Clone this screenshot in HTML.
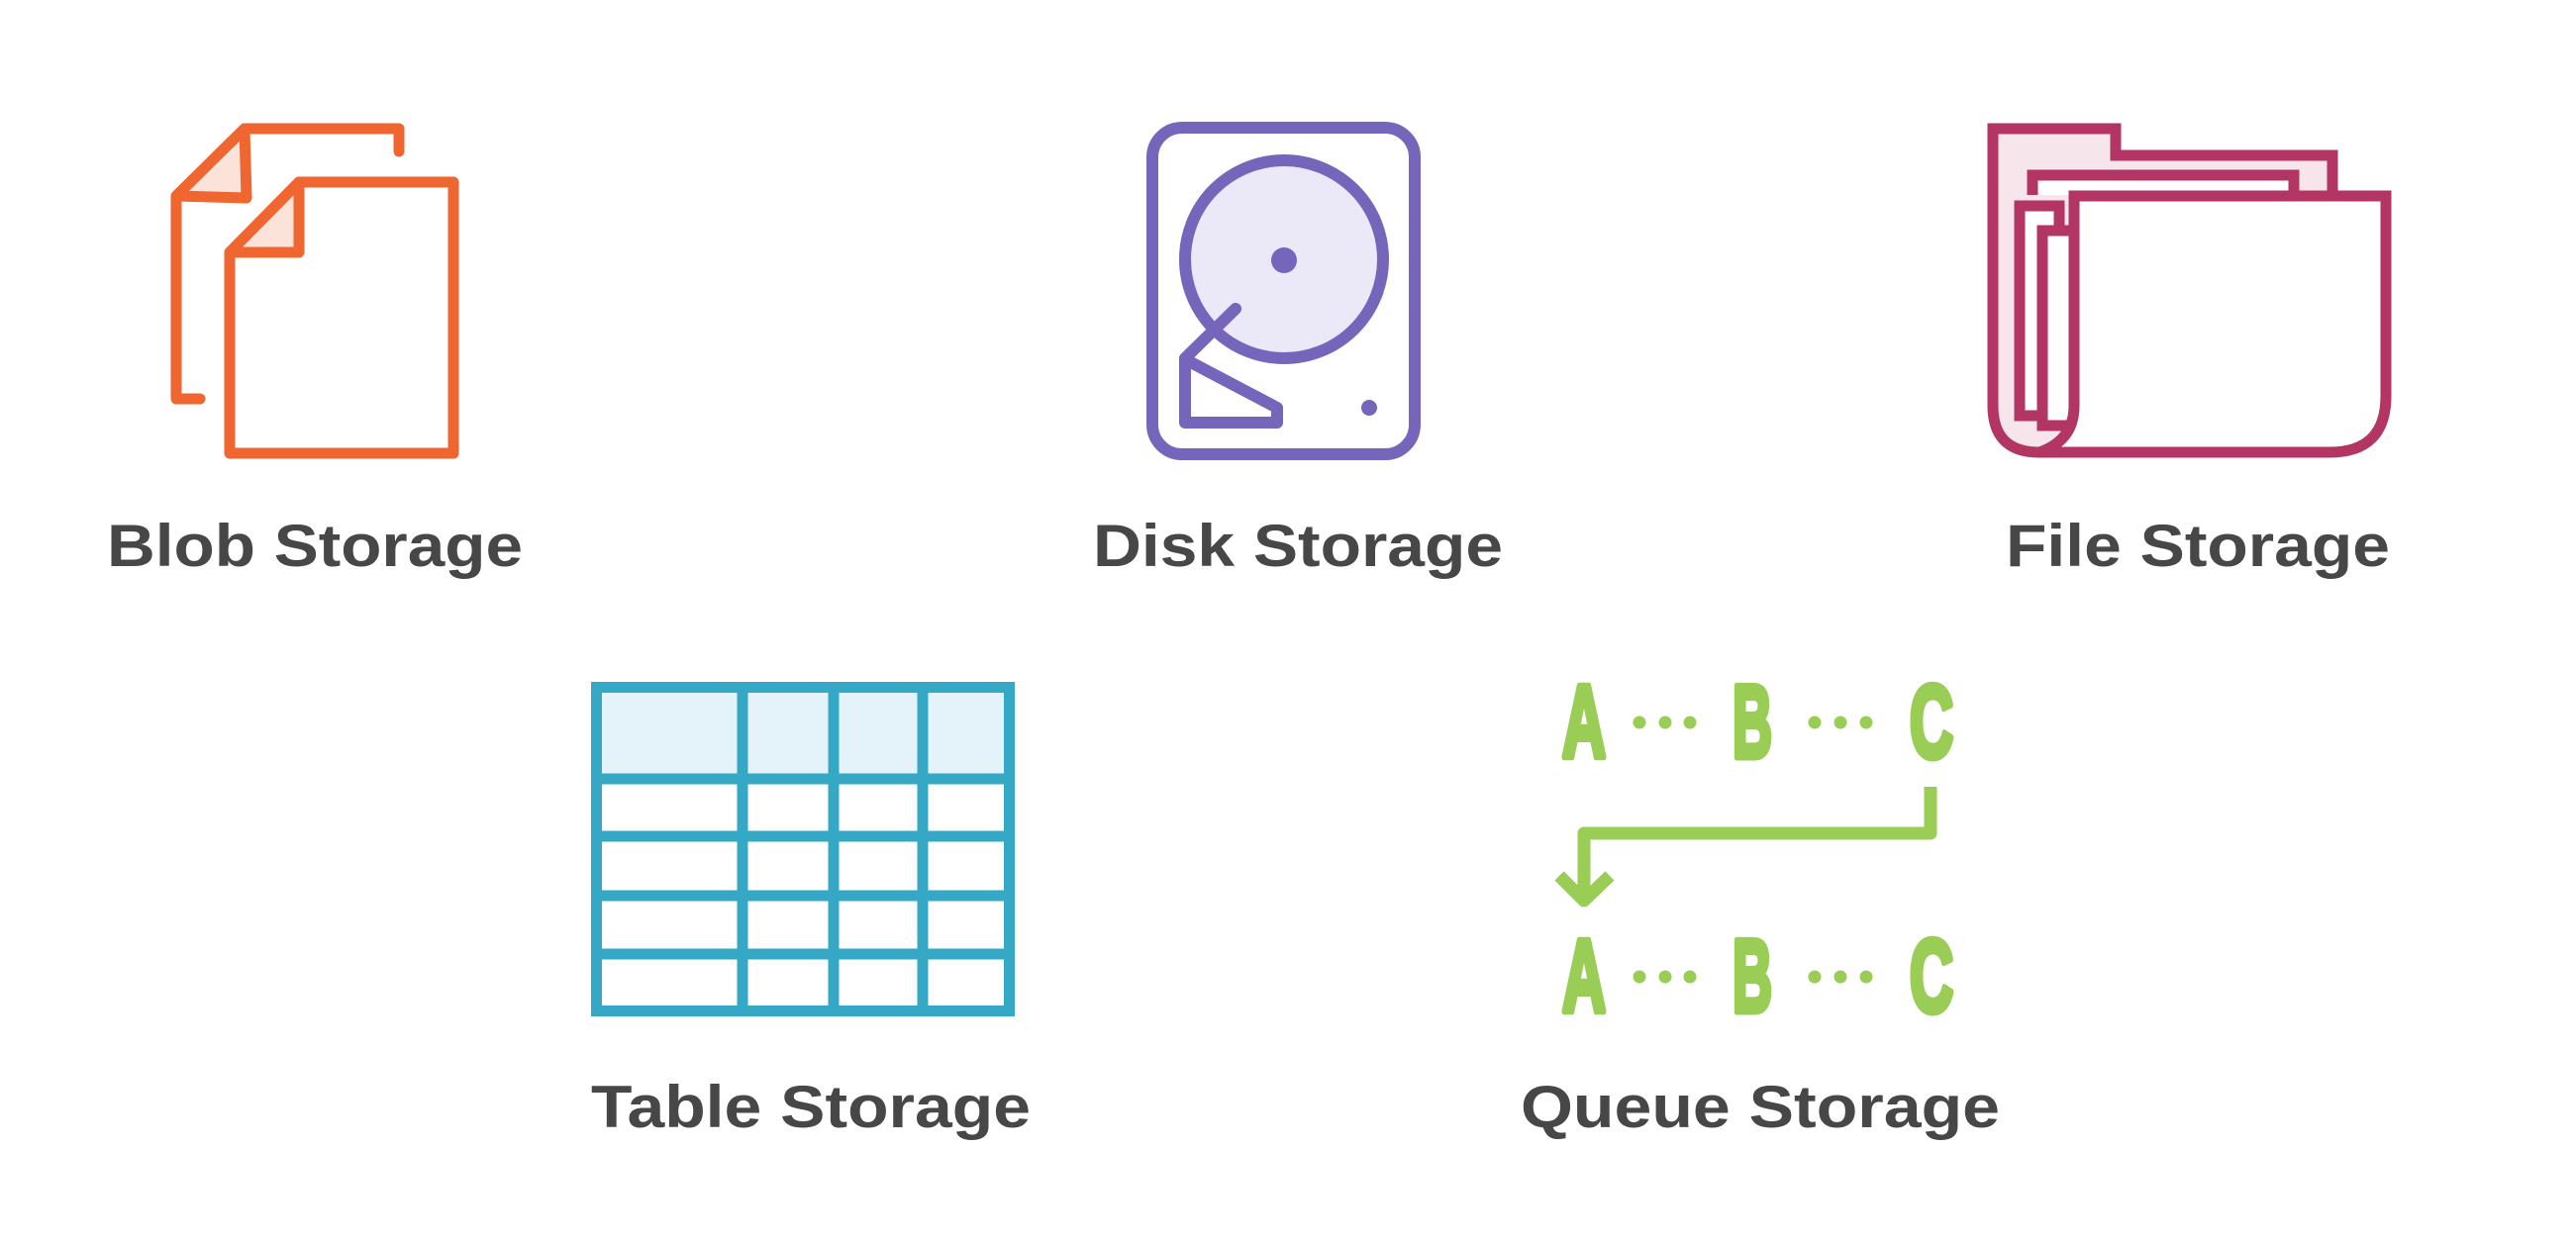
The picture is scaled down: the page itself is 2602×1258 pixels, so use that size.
<!DOCTYPE html>
<html><head><meta charset="utf-8"><style>
html,body{margin:0;padding:0;background:#fff;}
svg{display:block;}
text.l{font-family:"Liberation Sans",sans-serif;font-weight:bold;font-size:60px;fill:#474747;}
text.q{font-family:"Liberation Sans",sans-serif;font-weight:bold;font-size:104px;fill:#9acd55;stroke:#9acd55;stroke-width:7;stroke-linejoin:round;}
</style></head><body>
<svg width="2602" height="1258" viewBox="0 0 2602 1258" xmlns="http://www.w3.org/2000/svg">
<rect width="2602" height="1258" fill="#fff"/>
<!-- Blob -->
<g fill="none" stroke="#ef6630" stroke-width="11" stroke-linejoin="round" stroke-linecap="round">
  <path d="M403,153 L403,130 L247,130 L178,198 L178,403 L202,403"/>
  <path d="M247,130 L249,200 L178,198 Z" fill="#fbe3da"/>
  <path d="M302,184 L458,184 L458,458 L232,458 L232,255 Z" fill="#fff"/>
  <path d="M302,184 L302,255 L232,255 Z" fill="#fbe3da"/>
</g>
<!-- Disk -->
<g fill="none" stroke="#7566bb" stroke-width="12" stroke-linejoin="round" stroke-linecap="round">
  <rect x="1164" y="129" width="265" height="330" rx="30"/>
  <circle cx="1297" cy="262" r="100" fill="#ebe8f7"/>
  <path d="M1248,312 L1197,362"/>
  <path d="M1197,363 L1197,427 L1290,427 L1290,412 Z"/>
</g>
<circle cx="1297" cy="263" r="13" fill="#7566bb"/>
<circle cx="1383" cy="412" r="8" fill="#7566bb"/>
<!-- File -->
<g fill="none" stroke="#b23564" stroke-width="11" stroke-linejoin="miter">
  <path d="M2013,130 L2137,130 L2137,157 L2356,157 L2356,198 L2095,198 L2095,457 L2060,457 Q2013,457 2013,410 Z" fill="#f6e6ec"/>
  <path d="M2053,197 L2053,177 L2317,177 L2317,198" fill="#fff"/>
  <rect x="2040" y="208" width="40" height="212" fill="#fff"/>
  <rect x="2063" y="233" width="32" height="197" fill="#fff"/>
  <path d="M2095,198 L2410,198 L2410,400 Q2410,457 2353,457 L2060,457 Q2095,445 2095,410 Z" fill="#fff"/>
</g>
<!-- Table -->
<g>
  <rect x="597" y="689" width="428" height="98" fill="#e4f3f9"/>
  <g fill="none" stroke="#35a8c6" stroke-width="11">
    <rect x="602.5" y="694.5" width="417" height="327"/>
    <line x1="750" y1="694" x2="750" y2="1022"/>
    <line x1="842" y1="694" x2="842" y2="1022"/>
    <line x1="932" y1="694" x2="932" y2="1022"/>
    <line x1="602" y1="787" x2="1020" y2="787"/>
    <line x1="602" y1="845" x2="1020" y2="845"/>
    <line x1="602" y1="905" x2="1020" y2="905"/>
    <line x1="602" y1="964" x2="1020" y2="964"/>
  </g>
</g>
<!-- Queue -->
<g>
  <text class="q" x="1578" y="765" textLength="44" lengthAdjust="spacingAndGlyphs">A</text>
  <text class="q" x="1750" y="765" textLength="40" lengthAdjust="spacingAndGlyphs">B</text>
  <text class="q" x="1929" y="765" textLength="44" lengthAdjust="spacingAndGlyphs">C</text>
  <text class="q" x="1578" y="1022" textLength="44" lengthAdjust="spacingAndGlyphs">A</text>
  <text class="q" x="1750" y="1022" textLength="40" lengthAdjust="spacingAndGlyphs">B</text>
  <text class="q" x="1929" y="1022" textLength="44" lengthAdjust="spacingAndGlyphs">C</text>
  <g fill="#9acd55">
    <circle cx="1656" cy="730" r="6.5"/><circle cx="1682" cy="730" r="6.5"/><circle cx="1707" cy="730" r="6.5"/>
    <circle cx="1833" cy="730" r="6.5"/><circle cx="1859" cy="730" r="6.5"/><circle cx="1885" cy="730" r="6.5"/>
    <circle cx="1656" cy="987" r="6.5"/><circle cx="1682" cy="987" r="6.5"/><circle cx="1707" cy="987" r="6.5"/>
    <circle cx="1833" cy="987" r="6.5"/><circle cx="1859" cy="987" r="6.5"/><circle cx="1885" cy="987" r="6.5"/>
  </g>
  <g fill="none" stroke="#9acd55" stroke-width="13" stroke-linejoin="round">
    <path d="M1950,795 L1950,842 L1600,842 L1600,910"/>
    <path d="M1575,885 L1600,910 L1626,885"/>
  </g>
</g>
<!-- Labels -->
<text class="l" x="108" y="572" textLength="420" lengthAdjust="spacingAndGlyphs">Blob Storage</text>
<text class="l" x="1104" y="572" textLength="414" lengthAdjust="spacingAndGlyphs">Disk Storage</text>
<text class="l" x="2026" y="572" textLength="388" lengthAdjust="spacingAndGlyphs">File Storage</text>
<text class="l" x="597" y="1139" textLength="444" lengthAdjust="spacingAndGlyphs">Table Storage</text>
<text class="l" x="1536" y="1139" textLength="484" lengthAdjust="spacingAndGlyphs">Queue Storage</text>
</svg>
</body></html>
